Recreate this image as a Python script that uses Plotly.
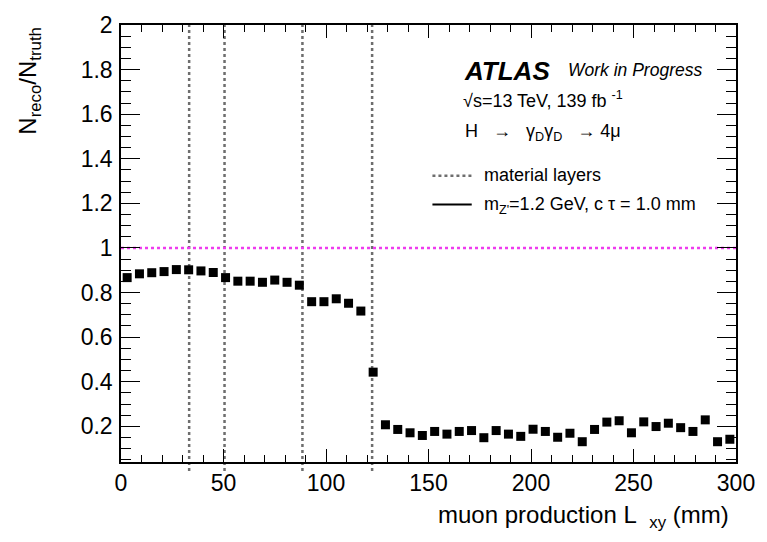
import plotly.graph_objects as go

# Reconstruction efficiency per 6 mm bin of transverse decay radius
lxy_mm = [3 + 6 * i for i in range(50)]
ratio = [
    0.867, 0.884, 0.889, 0.894, 0.903, 0.902, 0.897, 0.890, 0.867, 0.851,
    0.851, 0.846, 0.856, 0.846, 0.833, 0.759, 0.759, 0.772, 0.752, 0.717,
    0.443, 0.207, 0.186, 0.171, 0.159, 0.177, 0.165, 0.177, 0.181, 0.149,
    0.181, 0.165, 0.155, 0.187, 0.177, 0.151, 0.169, 0.131, 0.186, 0.219,
    0.225, 0.171, 0.220, 0.199, 0.214, 0.194, 0.177, 0.229, 0.131, 0.142,
]

# Radii of the pixel detector layers (mm)
material_layers = [33.25, 50.5, 88.5, 122.5]
reference_level = 1.0

x_range = [0, 300]
y_range = [0.04, 2.0]

W, H = 767, 542
M_L, M_R, M_T, M_B = 121, 20, 13, 80
PW, PH = W - M_L - M_R, H - M_T - M_B

FONT = "Liberation Sans, Arial, Helvetica, sans-serif"


def px(xpix):
    return (xpix - M_L) / PW


def py(ypix):
    return (H - M_B - ypix) / PH


def y_to_paper(v):
    return (v - y_range[0]) / (y_range[1] - y_range[0])


fig = go.Figure()

fig.add_trace(go.Scatter(
    x=lxy_mm, y=ratio, mode="markers",
    marker=dict(symbol="square", size=9, color="black", line=dict(width=0)),
    showlegend=False, cliponaxis=False,
))

shapes = []
# vertical dotted lines at the detector layers, drawn from 0 to the top
for r in material_layers:
    shapes.append(dict(
        type="line", xref="x", yref="paper",
        x0=r, x1=r, y0=y_to_paper(0.0), y1=y_to_paper(2.0),
        line=dict(color="#6e6e6e", width=2.5, dash="3px,3px"),
        layer="below",
    ))
# unit-efficiency reference line
shapes.append(dict(
    type="line", xref="paper", yref="y",
    x0=0, x1=1, y0=reference_level, y1=reference_level,
    line=dict(color="#ee3cee", width=2.5, dash="3px,3px"),
    layer="below",
))
# legend samples
shapes.append(dict(
    type="line", xref="paper", yref="paper",
    x0=px(438), x1=px(480), y0=py(168), y1=py(168),
    line=dict(color="#6e6e6e", width=2.5, dash="3px,3px"),
))
shapes.append(dict(
    type="line", xref="paper", yref="paper",
    x0=px(438), x1=px(478), y0=py(197.5), y1=py(197.5),
    line=dict(color="black", width=2),
))

annotations = [
    dict(text="<b><i>ATLAS</i></b>", x=px(468), y=py(60), xanchor="left",
         yanchor="middle", font=dict(size=26, color="black", family=FONT)),
    dict(text="<i>Work in Progress</i>", x=px(574), y=py(59), xanchor="left",
         yanchor="middle", font=dict(size=17.5, color="black", family=FONT)),
    dict(text="√s=13 TeV, 139 fb <sup>-1</sup>", x=px(467), y=py(90),
         xanchor="left", yanchor="middle",
         font=dict(size=18, color="black", family=FONT)),
    dict(text="H   →   γ<sub>D</sub>γ<sub>D</sub>   → 4μ", x=px(469), y=py(123),
         xanchor="left", yanchor="middle",
         font=dict(size=18, color="black", family=FONT)),
    dict(text="material layers", x=px(488), y=py(167), xanchor="left",
         yanchor="middle", font=dict(size=18, color="black", family=FONT)),
    dict(text="m<sub>Z'</sub>=1.2 GeV, c τ = 1.0 mm", x=px(488), y=py(198),
         xanchor="left", yanchor="middle",
         font=dict(size=18, color="black", family=FONT)),
    # axis titles
    dict(text="muon production L  <sub>xy</sub> (mm)", x=px(742), y=py(518),
         xanchor="right", yanchor="middle",
         font=dict(size=24, color="black", family=FONT)),
    dict(text="N<sub>reco</sub>/N<sub>truth</sub>", x=px(27), y=py(13),
         xanchor="center", yanchor="top", textangle=-90,
         font=dict(size=24, color="black", family=FONT)),
]
for a in annotations:
    a.update(xref="paper", yref="paper", showarrow=False)

axis_common = dict(
    showgrid=False, zeroline=False,
    showline=True, linecolor="black", linewidth=1.5,
    mirror="allticks", ticks="inside", tickcolor="black", tickwidth=1.2,
    tickfont=dict(size=23, color="black", family=FONT),
)

fig.update_layout(
    width=W, height=H,
    margin=dict(l=M_L, r=M_R, t=M_T, b=M_B),
    paper_bgcolor="white", plot_bgcolor="white",
    shapes=shapes, annotations=annotations,
    xaxis=dict(
        range=x_range, tick0=0, dtick=50, ticklen=13,
        minor=dict(dtick=10, ticklen=7, ticks="inside", tickcolor="black",
                   tickwidth=1.2, showgrid=False),
        ticklabelstandoff=0,
        **axis_common,
    ),
    yaxis=dict(
        range=y_range, tick0=0, dtick=0.2, ticklen=19,
        minor=dict(dtick=0.05, tick0=0, ticklen=10, ticks="inside",
                   tickcolor="black", tickwidth=1.2, showgrid=False),
        ticklabelstandoff=2,
        **axis_common,
    ),
    showlegend=False,
)

fig.write_html("out.html")
